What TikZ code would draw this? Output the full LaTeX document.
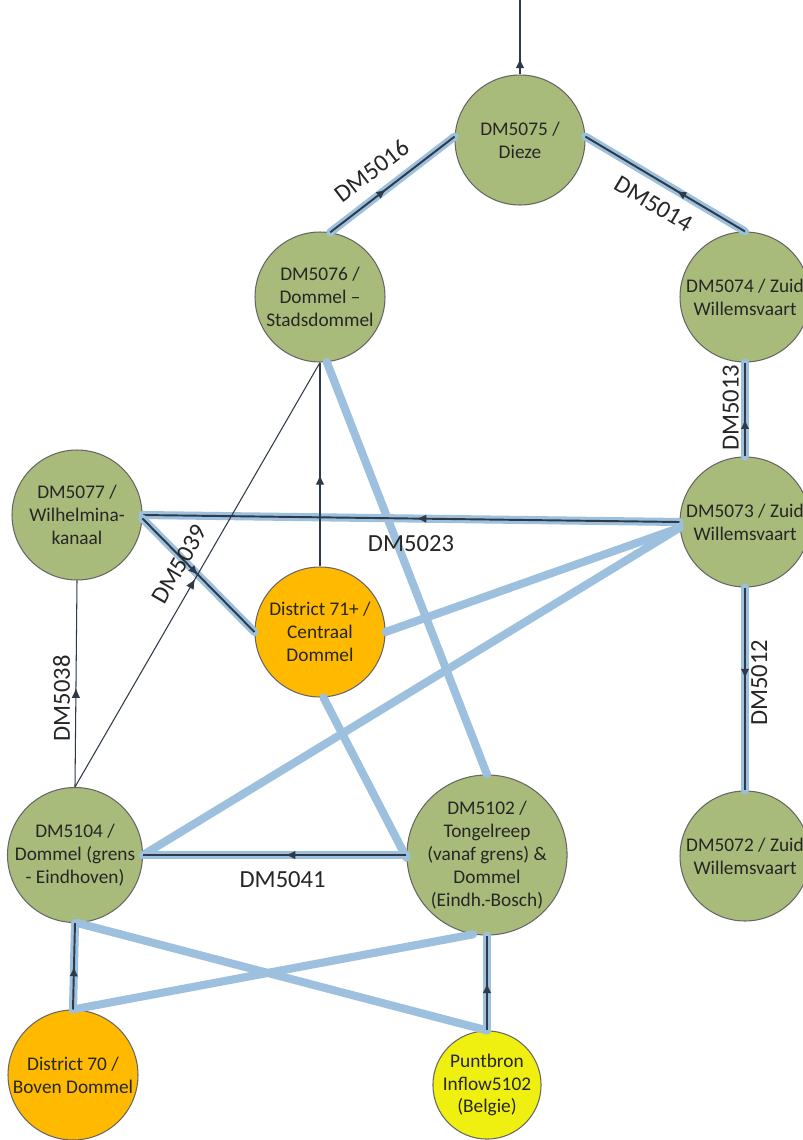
\documentclass[tikz,border=0pt]{standalone}
\usepackage{fontspec}
\setmainfont{Carlito}
\usetikzlibrary{arrows.meta,decorations.markings}

\definecolor{stngreen}{HTML}{A9BB7B}
\definecolor{distorange}{HTML}{FFBA00}
\definecolor{srcyellow}{HTML}{F0F010}
\definecolor{bedblue}{HTML}{9DC0DE}
\definecolor{flowdark}{HTML}{2E3A48}

\begin{document}
\begin{tikzpicture}[x=0.02cm, y=-0.02cm,
  station/.style={circle, draw=black!60, line width=0.6pt, fill=stngreen,
                  minimum size=2.6cm, inner sep=0pt, align=center,
                  font=\fontsize{11}{13}\selectfont, text=black!85},
  district/.style={station, fill=distorange},
  source/.style={station, fill=srcyellow, minimum size=2.15cm},
  ahead/.style={postaction={decorate}, decoration={markings,
                mark=at position #1 with {\arrow{Latex[length=2mm,width=1.7mm]}}}},
  flow/.style={draw=flowdark, line width=1.1pt, ahead=#1,
               preaction={draw=bedblue, line width=4.6pt, line cap=round}},
  link/.style={draw=flowdark, line width=0.6pt, ahead=#1},
  bed/.style={draw=bedblue, line width=4.6pt, line cap=round},
  lbl/.style={font=\fontsize{14}{16}\selectfont, text=black!85, inner sep=3pt}
]
  \useasboundingbox (0,0) rectangle (803,1140);

  % Meetpunten
  \node[station] (n75) at (520,140) {DM5075 /\\Dieze};
  \node[station] (n76) at (320,297) {DM5076 /\\Dommel --\\Stadsdommel};
  \node[station] (n74) at (745,297) {DM5074 / Zuid\\Willemsvaart};
  \node[station] (n77) at (77,515) {DM5077 /\\Wilhelmina-\\kanaal};
  \node[station] (n73) at (745,522) {DM5073 / Zuid\\Willemsvaart};
  \node[station] (n104) at (75,855) {DM5104 /\\Dommel (grens\\- Eindhoven)};
  \node[station] (n102) at (487,855) {DM5102 /\\Tongelreep\\(vanaf grens) \&\\Dommel\\(Eindh.-Bosch)};
  \node[station] (n72) at (745,856) {DM5072 / Zuid\\Willemsvaart};

  % Districten en puntbron
  \node[district] (n71) at (320,632) {District 71+ /\\Centraal\\Dommel};
  \node[district] (n70) at (73,1075) {District 70 /\\Boven Dommel};
  \node[source] (np) at (487,1085) {Puntbron\\Inflow5102\\(Belgie)};
  \coordinate (outlet) at (520,0);

  % Alleen blauwe verbindingen
  \draw[bed] (n76.-84) -- (n102.north);
  \draw[bed] (n71.-87) -- (n102.182);
  \draw[bed] (n73.185) -- (n71.east);
  \draw[bed] (n73.185) -- (n104.east);
  \draw[bed] (n70.north) -- (n102.-100);
  \draw[bed] (np.north) -- (n104.-88);

  % Debieten met blauwe onderlaag
  \draw[flow=0.45] (n76.81) -- (n75.177)
    node[lbl, pos=0.45, sloped, above=5pt] (l5016) {DM5016};
  \draw[flow=0.43] (n74.north) -- (n75.3)
    node[lbl, pos=0.5, sloped, below=5pt] (l5014) {DM5014};
  \draw[flow=0.4] (n73.north) -- (n74.south)
    node[lbl, pos=0.52, rotate=90, anchor=south] (l5013) {DM5013};
  \draw[flow=0.45] (n73.south) -- (n72.north)
    node[lbl, pos=0.47, rotate=90, anchor=north] (l5012) {DM5012};
  \draw[flow=0.49] (n73.west) -- (n77.east)
    node[lbl, pos=0.5, below=6pt] (l5023) {DM5023};
  \draw[flow=0.5] (n77.-3) -- (n71.west);
  \draw[flow=0.46] (n102.west) -- (n104.east)
    node[lbl, pos=0.47, below=6pt] (l5041) {DM5041};
  \draw[flow=0.5] (n70.north) -- (n104.south);
  \draw[flow=0.5] (np.north) -- (n102.south);

  % Dunne verbindingen
  \draw[link=0.45] (n71.north) -- (n76.south);
  \draw[link=0.48] (n104.north) -- (n77.south)
    node[lbl, pos=0.43, rotate=90, anchor=south] (l5038) {DM5038};
  \draw[link=0.49] (n104.north) -- (n76.south)
    node[lbl, pos=0.5, sloped, above=4pt] (l5039) {DM5039};
  \draw[link=0.22, line width=0.8pt] (n75.north) -- (outlet);
\end{tikzpicture}
\end{document}
